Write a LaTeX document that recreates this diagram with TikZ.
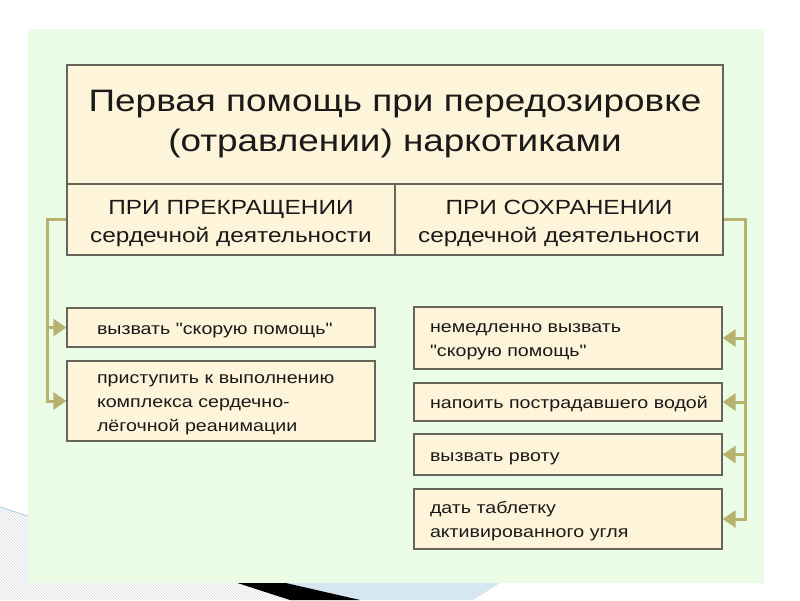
\documentclass[tikz,border=0pt]{standalone}
\usepackage{fontspec}
\newfontfamily\mainfnt{Liberation Sans}[FakeStretch=1.19]
\usetikzlibrary{arrows.meta,patterns}
\definecolor{bggreen}{HTML}{EAFCE6}
\definecolor{boxfill}{HTML}{FEF4D9}
\definecolor{boxline}{HTML}{65655B}
\definecolor{connc}{HTML}{B7B36F}
\definecolor{txt}{HTML}{1A1A1A}
\definecolor{decoblue}{HTML}{D5E7F0}
\definecolor{hatchc}{HTML}{D3D9DF}
\definecolor{edgeblue}{HTML}{A9C9DD}
\newcommand{\lift}[1]{\rule{0pt}{#1pt}}
\pgfdeclarelayer{deco}
\pgfdeclarelayer{links}
\pgfsetlayers{deco,links,main}
\begin{document}
\begin{tikzpicture}[x=1pt,y=-1pt,
  box/.style={draw=boxline, line width=1.3pt, fill=boxfill, text=txt, inner sep=0pt},
  headbox/.style={box, align=center},
  litem/.style={box, minimum width=308pt, align=left, inner xsep=30pt, text width=248pt,
    font=\mainfnt\fontsize{16.5}{24}\selectfont},
  ritem/.style={box, minimum width=308pt, align=left, inner xsep=16pt, text width=276pt,
    font=\mainfnt\fontsize{16.5}{24}\selectfont},
  link/.style={draw=connc, line width=3pt, line cap=rect},
  arr/.style={draw=connc, line width=3pt, -{Triangle[length=13pt,width=17pt]}}]
\useasboundingbox (0,0) rectangle (800,600);

% slide decoration and background
\begin{pgfonlayer}{deco}
  \fill[white] (0,0) rectangle (800,600);
  \fill[pattern=north west lines, pattern color=hatchc] (0,507) -- (290,600) -- (0,600) -- cycle;
  \draw[edgeblue, line width=0.8pt] (0,507) -- (40,520);
  \fill[decoblue] (250,583) -- (500,583) -- (473,600) -- (330,600) -- cycle;
  \fill[black] (120,545) -- (360,600) -- (290,600) -- cycle;
  \fill[bggreen] (28,29) rectangle (764,583);
\end{pgfonlayer}

% header
\node[headbox, minimum width=656pt, minimum height=119pt,
  font=\mainfnt\fontsize{31}{40}\selectfont] (title) at (395,124.5)
  {Первая помощь при передозировке\\(отравлении) наркотиками};
\node[headbox, minimum width=328pt, minimum height=71pt,
  font=\mainfnt\fontsize{20.5}{28}\selectfont] (s1) at (231,219.5)
  {\lift{23}ПРИ ПРЕКРАЩЕНИИ\\сердечной деятельности};
\node[headbox, minimum width=328pt, minimum height=71pt,
  font=\mainfnt\fontsize{20.5}{28}\selectfont] (s2) at (559,219.5)
  {\lift{23}ПРИ СОХРАНЕНИИ\\сердечной деятельности};

% left items
\node[litem, minimum height=39pt] (l1) at (221,327.5) {\lift{17}вызвать "скорую помощь"};
\node[litem, minimum height=80pt] (l2) at (221,401)
  {\lift{17}приступить к выполнению\\комплекса сердечно-\\лёгочной реанимации};

% right items
\node[ritem, minimum height=62pt] (r1) at (568,338) {\lift{17}немедленно вызвать\\"скорую помощь"};
\node[ritem, minimum height=38pt] (r2) at (568,402) {\lift{17}\mbox{напоить пострадавшего водой}};
\node[ritem, minimum height=41pt] (r3) at (568,454.5) {\lift{17}вызвать рвоту};
\node[ritem, minimum height=60pt] (r4) at (568,519) {\lift{17}дать таблетку\\активированного угля};

% connectors
\coordinate (lc) at (47,219.5);
\coordinate (rc) at (745,219.5);
\begin{pgfonlayer}{links}
  \draw[link] (s1.west) -| (lc |- l2.west);
  \draw[arr] (lc |- l1.west) -- (l1.west);
  \draw[arr] (lc |- l2.west) -- (l2.west);
  \draw[link] (s2.east) -| (rc |- r4.east);
  \draw[arr] (rc |- r1.east) -- (r1.east);
  \draw[arr] (rc |- r2.east) -- (r2.east);
  \draw[arr] (rc |- r3.east) -- (r3.east);
  \draw[arr] (rc |- r4.east) -- (r4.east);
\end{pgfonlayer}
\end{tikzpicture}
\end{document}
